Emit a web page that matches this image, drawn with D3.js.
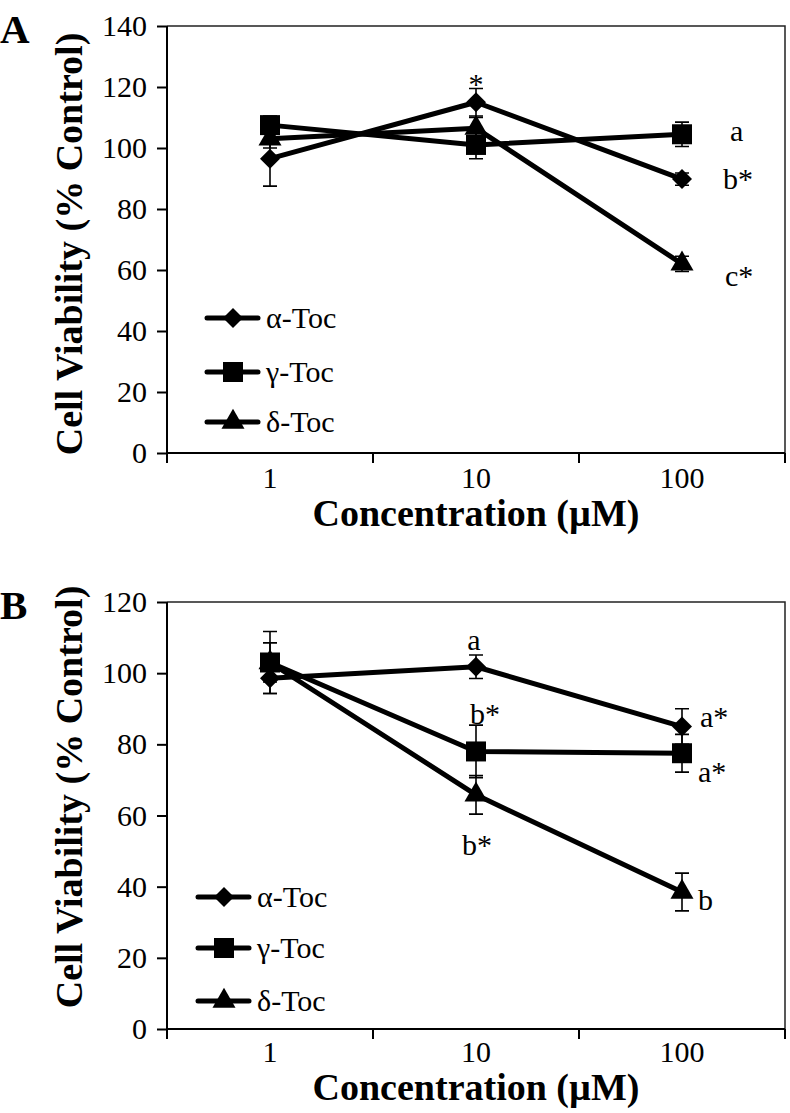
<!DOCTYPE html>
<html>
<head>
<meta charset="utf-8">
<script src="https://cdn.jsdelivr.net/npm/d3@7"></script>
<style>
  body { margin: 0; background: #fff; }
  text { font-family: "Liberation Serif", "Times New Roman", serif; fill: #000; }
</style>
</head>
<body>
<svg id="chart" width="790" height="1113" font-family="Liberation Serif, serif"></svg>
<script>
// categories and series
var conc = ['1', '10', '100'];
var series_names = ['α-Toc', 'γ-Toc', 'δ-Toc'];
var shapes = ['diamond', 'square', 'triangle'];

// panel A values (% control) and errors
var alpha_A = [96.5, 115, 89.8];
var alpha_A_err = [9, 4.5, 2];
var gamma_A = [107.5, 101, 104.5];
var gamma_A_err = [3, 4.5, 4];
var delta_A = [103, 106.5, 62];
var delta_A_err = [3, 3.5, 2.5];
var ticks_A = [0, 20, 40, 60, 80, 100, 120, 140];

// panel B values (% control) and errors
var alpha_B = [98.6, 101.8, 85];
var alpha_B_err = [4.3, 3.3, 5];
var gamma_B = [103, 78, 77.5];
var gamma_B_err = [8.7, 7.4, 5.3];
var delta_B = [103, 65.8, 38.5];
var delta_B_err = [5.5, 5.4, 5.3];
var ticks_B = [0, 20, 40, 60, 80, 100, 120];

// significance letters: [series, point, text]
var notes_A = [[0, 1, '*'], [1, 2, 'a'], [0, 2, 'b*'], [2, 2, 'c*']];
var notes_B = [[0, 1, 'a'], [1, 1, 'b*'], [0, 2, 'a*'], [1, 2, 'a*'], [2, 1, 'b*'], [2, 2, 'b']];

var svg = d3.select('#chart');

function marker(shape) {
	if (shape == 'diamond') return d3.symbol().type(d3.symbolSquare).size(200)();
	if (shape == 'square') return d3.symbol().type(d3.symbolSquare).size(400)();
	return d3.symbol().type(d3.symbolTriangle).size(230)();
}

function plot_panel(opt) {
	var g = svg.append('g');
	var x = d3.scaleBand().domain(conc).range([167, 785]).padding(0);
	var y = d3.scaleLinear().domain([0, d3.max(opt.ticks)]).range([opt.bottom, opt.top]);

	// frame (top + right)
	g.append('path')
		.attr('d', 'M167,' + opt.top + 'H785V' + opt.bottom)
		.attr('fill', 'none').attr('stroke', '#222').attr('stroke-width', 1.5);

	// y axis
	var yaxis = g.append('g').attr('transform', 'translate(167,0)')
		.call(d3.axisLeft(y).tickValues(opt.ticks).tickSize(10).tickPadding(10));
	yaxis.attr('font-family', null);
	yaxis.select('.domain').attr('stroke-width', 2).attr('d', 'M0,' + opt.top + 'V' + opt.bottom);
	yaxis.selectAll('.tick line').attr('stroke-width', 2);
	yaxis.selectAll('.tick text')
		.style('font-family', '"Liberation Serif", serif').style('font-size', '30px').attr('fill', '#000');

	// x axis: boundaries ticks + centered labels
	g.append('line')
		.attr('x1', 167).attr('x2', 785).attr('y1', opt.bottom).attr('y2', opt.bottom)
		.attr('stroke', '#000').attr('stroke-width', 2);
	var bounds = conc.map(function(d) { return x(d); }).concat([x(conc[conc.length - 1]) + x.bandwidth()]);
	g.selectAll('line.xt').data(bounds).enter().append('line')
		.attr('x1', function(d) { return d; }).attr('x2', function(d) { return d; })
		.attr('y1', opt.bottom).attr('y2', opt.bottom + 10)
		.attr('stroke', '#000').attr('stroke-width', 2);
	g.selectAll('text.xl').data(conc).enter().append('text')
		.attr('x', function(d) { return x(d) + x.bandwidth() / 2; })
		.attr('y', opt.bottom + opt.xlab_dy)
		.attr('text-anchor', 'middle').style('font-size', '30px')
		.text(function(d) { return d; });

	// titles
	g.append('text')
		.attr('x', 476).attr('y', opt.bottom + opt.title_dy)
		.attr('text-anchor', 'middle').style('font-size', '38px').style('font-weight', 'bold')
		.text('Concentration (µM)');
	g.append('text')
		.attr('transform', 'translate(82,' + opt.label_cy + ') rotate(-90)')
		.attr('text-anchor', 'middle').style('font-size', '38px').style('font-weight', 'bold')
		.text('Cell Viability (% Control)');
	g.append('text')
		.attr('x', 0).attr('y', opt.top + 17)
		.style('font-size', '41px').style('font-weight', 'bold')
		.text(opt.letter);

	var cx = function(i) { return x(conc[i]) + x.bandwidth() / 2; };
	var line = d3.line()
		.x(function(d, i) { return cx(i); })
		.y(function(d) { return y(d); });

	opt.values.forEach(function(vals, s) {
		// error bars
		vals.forEach(function(v, i) {
			var e = opt.errors[s][i];
			g.append('path')
				.attr('d', 'M' + cx(i) + ',' + y(v - e) + 'V' + y(v + e)
					+ 'M' + (cx(i) - 7) + ',' + y(v - e) + 'h14'
					+ 'M' + (cx(i) - 7) + ',' + y(v + e) + 'h14')
				.attr('fill', 'none').attr('stroke', '#000').attr('stroke-width', 1.6);
		});
	});
	opt.values.forEach(function(vals, s) {
		g.append('path')
			.datum(vals)
			.attr('d', line)
			.attr('fill', 'none').attr('stroke', '#000').attr('stroke-width', 5)
			.attr('stroke-linejoin', 'round');
		g.selectAll('path.m' + s).data(vals).enter().append('path')
			.attr('d', marker(shapes[s]))
			.attr('transform', function(d, i) {
				return 'translate(' + cx(i) + ',' + y(d) + ')' + (shapes[s] == 'diamond' ? ' rotate(45)' : '');
			})
			.attr('fill', '#000');
	});

	// significance letters
	opt.notes.forEach(function(n, k) {
		var v = opt.values[n[0]][n[1]];
		g.append('text')
			.attr('x', cx(n[1]) + opt.note_off[k][0])
			.attr('y', y(v) + opt.note_off[k][1])
			.attr('text-anchor', opt.note_off[k][2] || 'start')
			.style('font-size', '30px')
			.text(n[2]);
	});

	// legend
	series_names.forEach(function(name, s) {
		var ly = opt.legend_y[s];
		g.append('line')
			.attr('x1', opt.legend_x).attr('x2', opt.legend_x + 51)
			.attr('y1', ly).attr('y2', ly)
			.attr('stroke', '#000').attr('stroke-width', 5).attr('stroke-linecap', 'round');
		g.append('path')
			.attr('d', marker(shapes[s]))
			.attr('transform', 'translate(' + (opt.legend_x + 26) + ',' + ly + ')' + (shapes[s] == 'diamond' ? ' rotate(45)' : ''))
			.attr('fill', '#000');
		g.append('text')
			.attr('x', opt.legend_x + 59).attr('y', ly + 10)
			.style('font-size', '30px')
			.text(name);
	});
}

plot_panel({
	letter: 'A', top: 26, bottom: 453, ticks: ticks_A, label_cy: 244, xlab_dy: 35, title_dy: 73,
	values: [alpha_A, gamma_A, delta_A],
	errors: [alpha_A_err, gamma_A_err, delta_A_err],
	notes: notes_A,
	note_off: [[0, -8, 'middle'], [48, 7], [41, 10], [43, 22]],
	legend_x: 207, legend_y: [318, 372, 422]
});

plot_panel({
	letter: 'B', top: 602, bottom: 1029, ticks: ticks_B, label_cy: 797, xlab_dy: 33, title_dy: 71,
	values: [alpha_B, gamma_B, delta_B],
	errors: [alpha_B_err, gamma_B_err, delta_B_err],
	notes: notes_B,
	note_off: [[-2, -17, 'middle'], [-6, -27], [18, 0], [16, 29], [-14, 60], [16, 18]],
	legend_x: 198, legend_y: [897, 948, 1001]
});
</script>
</body>
</html>
